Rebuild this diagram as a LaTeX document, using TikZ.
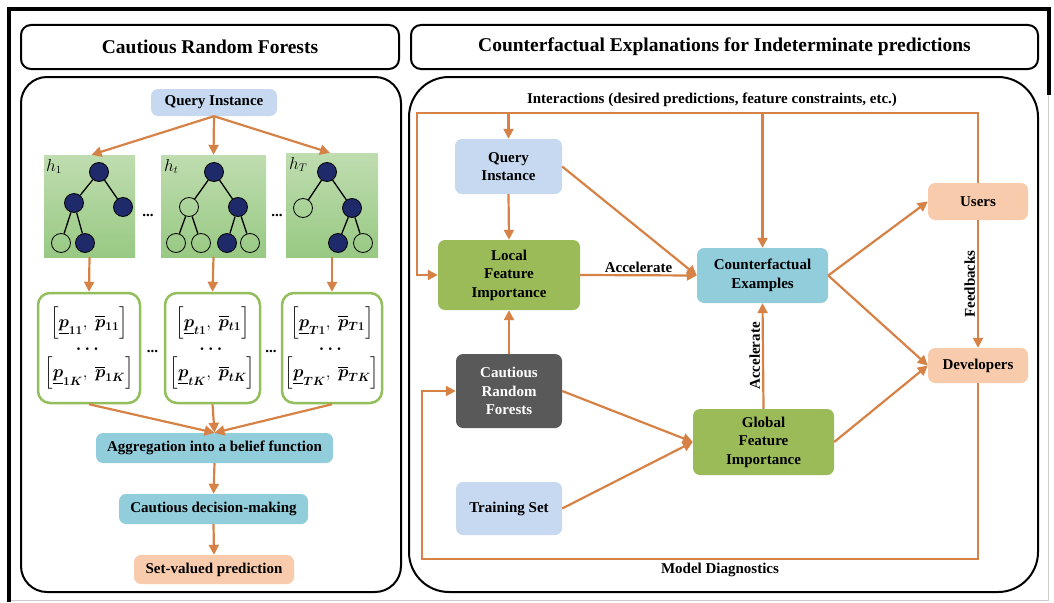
\documentclass[tikz,border=0pt]{standalone}
\usepackage{amsmath,amssymb}
\usepackage{fontspec}
\setmainfont{Liberation Serif}
\usetikzlibrary{arrows.meta}
\definecolor{arrc}{RGB}{214,130,70}
\definecolor{qblue}{HTML}{C6D9F1}
\definecolor{tealb}{HTML}{92CDDC}
\definecolor{peach}{HTML}{F8CBAD}
\definecolor{lgreen}{HTML}{9BBB59}
\definecolor{dgray}{HTML}{595959}
\definecolor{navy}{HTML}{1F2A6B}
\definecolor{treetop}{HTML}{BFDDB0}
\definecolor{treebot}{HTML}{98C983}
\definecolor{igreen}{HTML}{92BF5C}
\tikzset{
 arr/.style={draw=arrc, line width=2.2pt, -{Triangle[length=10pt,width=10pt]}},
 sz/.style 2 args={minimum width=#1pt, minimum height=#2pt},
 bx/.style={rounded corners=7pt, align=center, inner sep=0pt, font=\bfseries\fontsize{15}{18.5}\selectfont},
 qb/.style={bx, fill=qblue},
 tb/.style={bx, fill=tealb},
 pb/.style={bx, fill=peach},
 gb/.style={bx, fill=lgreen},
 db/.style={bx, fill=dgray, text=white},
 treebox/.style={top color=treetop, bottom color=treebot, inner sep=0pt},
 tn/.style={circle, draw=black, line width=0.8pt, minimum size=19pt, inner sep=0pt},
 fn/.style={tn, fill=navy},
 te/.style={draw=black, line width=1.3pt},
 ib/.style={draw=igreen, line width=2.5pt, rounded corners=12pt, fill=white, inner sep=0pt, align=center, font=\fontsize{18}{19}\selectfont},
 lab/.style={font=\bfseries\fontsize{15}{18}\selectfont, inner sep=1pt},
 ttl/.style={font=\bfseries\fontsize{19.5}{22}\selectfont},
 hl/.style={font=\fontsize{16}{18}\selectfont, inner sep=0pt},
 panel/.style={draw=black, line width=2pt},
}
\newcommand{\ivl}[2]{$\Bigl[\underline{\boldsymbol p}_{\boldsymbol{#1}},\ \overline{\boldsymbol p}_{\boldsymbol{#1}}\Bigr]$\\[5pt]$\boldsymbol{\cdots}$\\[3pt]$\Bigl[\underline{\boldsymbol p}_{\boldsymbol{#2}},\ \overline{\boldsymbol p}_{\boldsymbol{#2}}\Bigr]$}
\begin{document}
\begin{tikzpicture}[x=1pt,y=-1pt]
\useasboundingbox (0,0) rectangle (1054,602);
% outer frame
\draw[line width=3.5pt] (9,602) -- (9,9) -- (1049,9) -- (1049,95);
\draw[gray!40, line width=1pt] (1048.5,95) -- (1048.5,600.5) -- (11,600.5);
% title boxes
\draw[panel, rounded corners=10pt] (21,25) rectangle (399,69);
\node[ttl] (ttlL) at (210,47) {Cautious Random Forests};
\draw[panel, rounded corners=10pt] (411,25) rectangle (1038,69);
\node[ttl] (ttlR) at (724.5,47) {Counterfactual Explanations for Indeterminate predictions};
% panels
\draw[panel, rounded corners=26pt] (21,77) rectangle (401,592);
\draw[panel, rounded corners=40pt] (409,77) rectangle (1038,592);

% ---------------- left panel ----------------
\node[qb, sz={126}{27}] (lq) at (214,102.5) {Query Instance};
\node[treebox, sz={91}{102}] (t1) at (89.5,206) {};
\node[treebox, sz={105}{102}] (t2) at (213.5,206) {};
\node[treebox, sz={92}{104}] (t3) at (332,205) {};
\node[hl, anchor=north west] (h1) at (46,159) {$h_1$};
\node[hl, anchor=north west] (h2) at (164,159) {$h_t$};
\node[hl, anchor=north west] (h3) at (289,157) {$h_T$};
% tree 1
\node[fn] (a1) at (99,172) {};
\node[fn] (a2) at (74,203) {};
\node[fn] (a3) at (123,207) {};
\node[tn] (a4) at (61,243) {};
\node[fn] (a5) at (85,243) {};
\draw[te] (a1) -- (a2); \draw[te] (a1) -- (a3);
\draw[te] (a2) -- (a4); \draw[te] (a2) -- (a5);
% tree 2
\node[fn] (b1) at (214,172) {};
\node[tn] (b2) at (189,207) {};
\node[fn] (b3) at (238,207) {};
\node[tn] (b4) at (176,243) {};
\node[tn] (b5) at (201,243) {};
\node[fn] (b6) at (227,243) {};
\node[tn] (b7) at (250,243) {};
\draw[te] (b1) -- (b2); \draw[te] (b1) -- (b3);
\draw[te] (b2) -- (b4); \draw[te] (b2) -- (b5);
\draw[te] (b3) -- (b6); \draw[te] (b3) -- (b7);
% tree 3
\node[fn] (c1) at (327,172) {};
\node[tn] (c2) at (303,208) {};
\node[fn] (c3) at (352,208) {};
\node[fn] (c4) at (338,243) {};
\node[tn] (c5) at (363,243) {};
\draw[te] (c1) -- (c2); \draw[te] (c1) -- (c3);
\draw[te] (c3) -- (c4); \draw[te] (c3) -- (c5);
\node[lab, anchor=base] (dd1) at (148,216) {...};
\node[lab, anchor=base] (dd2) at (277,216) {...};
% interval boxes
\node[ib, sz={102}{110}] (i1) at (89,348) {\ivl{11}{1K}};
\node[ib, sz={95}{110}] (i2) at (212.5,348) {\ivl{t1}{tK}};
\node[ib, sz={100}{110}] (i3) at (332,348) {\ivl{T1}{TK}};
\node[lab, anchor=base] (dd3) at (152.5,352) {...};
\node[lab, anchor=base] (dd4) at (271,352) {...};
\node[tb, sz={237}{30}] (agg) at (214.5,448) {Aggregation into a belief function};
\node[tb, sz={189}{30}] (cdm) at (213.5,509) {Cautious decision-making};
\node[pb, sz={160}{29}] (svp) at (214,569.5) {Set-valued prediction};
% left connectors
\draw[arr] (lq.south) -- ([xshift=2pt]t1.north);
\draw[arr] (lq.south) -- (t2.north);
\draw[arr] (lq.south) -- ([xshift=-2pt]t3.north);
\draw[arr] (t1.south) -- (i1.north);
\draw[arr] (t2.south) -- (i2.north);
\draw[arr] (t3.south) -- (i3.north);
\draw[arr] (i1.south) -- (agg.north);
\draw[arr] (i2.south) -- (agg.north);
\draw[arr] (i3.south) -- (agg.north);
\draw[arr] (agg.south) -- (cdm.north);
\draw[arr] (cdm.south) -- (svp.north);

% ---------------- right panel ----------------
\node[qb, sz={107}{55}] (rq) at (508.5,166.5) {Query\\Instance};
\node[gb, sz={142}{70}] (lfi) at (509,275) {Local\\Feature\\Importance};
\node[tb, sz={131}{55}] (ce) at (762.5,275.5) {Counterfactual\\Examples};
\node[pb, sz={100}{37}] (users) at (978,201.5) {Users};
\node[pb, sz={100}{35}] (dev) at (978,365.5) {Developers};
\node[db, sz={106}{74}] (crf) at (509,391) {Cautious\\Random\\Forests};
\node[qb, sz={106}{53}] (ts) at (509,508.5) {Training Set};
\node[gb, sz={141}{66}] (gfi) at (763.5,442) {Global\\Feature\\Importance};

\coordinate (tl) at (417,113);
\coordinate (tr) at (978,113);
\coordinate (bl) at (422,559);
\draw[arr] (users.north) -- (tr) -- (tl) |- (lfi.west);
\draw[arr] (rq.north |- tl) -- (rq.north);
\draw[arr] (ce.north |- tl) -- (ce.north);
\node[lab] (inter) at (712,100) {Interactions (desired predictions, feature constraints, etc.)};

\draw[arr] (rq.south) -- (lfi.north);
\draw[arr] (rq.east) -- (ce.west);
\draw[arr] (lfi.east) -- node[lab, above=1pt] (acc1) {Accelerate} (ce.west);
\draw[arr] (ce.east) -- (users.west);
\draw[arr] (ce.east) -- (dev.west);
\draw[arr] (gfi.east) -- (dev.west);
\draw[arr] (users.south) -- node[lab, rotate=90, above=1pt] (fb) {Feedbacks} (dev.north);
\draw[arr] (crf.north) -- (lfi.south);
\draw[arr] (crf.east) -- (gfi.west);
\draw[arr] (ts.east) -- (gfi.west);
\draw[arr] (gfi.north) -- node[lab, rotate=90, above=1pt] (acc2) {Accelerate} (ce.south);
\draw[arr] (dev.south) |- (bl) |- (crf.west);
\node[lab] (md) at (720,570) {Model Diagnostics};
\end{tikzpicture}
\end{document}
